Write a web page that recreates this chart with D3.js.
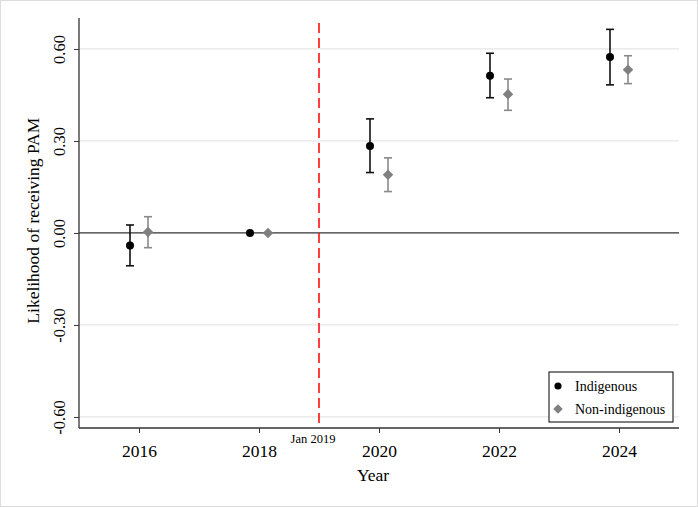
<!DOCTYPE html>
<html>
  <head>
    <meta charset="utf-8">
    <title>Event study</title>
    <style>
      body { margin: 0; background: #fff; }
      svg text { font-family: "Liberation Serif", "Times New Roman", serif !important; }
    </style>
  </head>
  <body>
    <div id="chart"></div>
    <script src="https://cdn.jsdelivr.net/npm/d3@7"></script>
<script>

  var years = [2016, 2018, 2020, 2022, 2024];
  var yTicks = [-0.6, -0.3, 0, 0.3, 0.6];

  // Indigenous: estimate, lower CI, upper CI
  var indig = [-0.041, 0.0, 0.284, 0.513, 0.574];
  var indigLo = [-0.107, 0.0, 0.197, 0.441, 0.483];
  var indigHi = [0.026, 0.0, 0.372, 0.586, 0.664];

  // Non-indigenous
  var nonIndig = [0.003, 0.0, 0.190, 0.452, 0.532];
  var nonIndigLo = [-0.048, 0.0, 0.135, 0.400, 0.487];
  var nonIndigHi = [0.053, 0.0, 0.245, 0.502, 0.578];

  var seriesNames = ["Indigenous", "Non-indigenous"];

  var W = 698, H = 507;
  var margin = {top: 18, right: 18, bottom: 79, left: 79},
    width = 679 - margin.left,
    height = 428 - margin.top;

  var svg = d3.select('#chart')
    .append('svg')
    .attr("width", W)
    .attr("height", H);

  svg.append("rect")
    .attr("x", 0.5).attr("y", 0.5)
    .attr("width", W - 1).attr("height", H - 1)
    .attr("fill", "#fff")
    .attr("stroke", "#dcdcdc");

  var g = svg.append("g")
    .attr("transform", "translate(" + margin.left + "," + margin.top + ")");

  var x = d3.scaleLinear()
    .range([0, width])
    .domain([2015, 2025]);

  var y = d3.scaleLinear()
    .range([height, 0])
    .domain([-0.636, 0.701]);

  // gridlines
  g.selectAll(".grid")
    .data(yTicks.filter(function(d){ return d !== 0; }))
    .enter().append("line")
    .attr("x1", 0).attr("x2", width)
    .attr("y1", function(d){ return y(d); })
    .attr("y2", function(d){ return y(d); })
    .attr("stroke", "#e6e6e6")
    .attr("stroke-width", 1.2);

  // zero line
  g.append("line")
    .attr("x1", 0).attr("x2", width)
    .attr("y1", y(0)).attr("y2", y(0))
    .attr("stroke", "#333")
    .attr("stroke-width", 1.3);

  var fmt = function(d){ return d3.format(".2f")(d).replace("\u2212", "-"); };

  // y axis
  var yAxis = g.append("g")
    .call(d3.axisLeft(y).tickValues(yTicks).tickSize(5).tickFormat(fmt))
    .attr("font-family", null);
  yAxis.select(".domain").attr("stroke", "#333").attr("stroke-width", 1.3)
    .attr("d", "M0," + height + "V0");
  yAxis.selectAll(".tick line").attr("stroke", "#333");
  yAxis.selectAll(".tick text")
    .attr("font-size", 16.5)
    .attr("fill", "#000")
    .attr("transform", "rotate(-90)")
    .attr("x", 0)
    .attr("y", -14)
    .attr("dy", 0)
    .attr("text-anchor", "middle");

  // x axis
  var xAxis = g.append("g")
    .attr("transform", "translate(0," + height + ")")
    .call(d3.axisBottom(x).tickValues(years).tickSize(5).tickFormat(d3.format("d")))
    .attr("font-family", null);
  xAxis.select(".domain").attr("stroke", "#333").attr("stroke-width", 1.3)
    .attr("d", "M0,0H" + width);
  xAxis.selectAll(".tick line").attr("stroke", "#333");
  xAxis.selectAll(".tick text")
    .attr("font-size", 17.5)
    .attr("fill", "#000")
    .attr("y", 17);

  // policy line
  g.append("line")
    .attr("x1", x(2019)).attr("x2", x(2019))
    .attr("y1", 5).attr("y2", height)
    .attr("stroke", "#ff1010")
    .attr("stroke-width", 1.6)
    .attr("stroke-dasharray", "10,5");

  g.append("text")
    .attr("x", x(2018.9))
    .attr("y", height + 15)
    .attr("text-anchor", "middle")
    .attr("font-size", 12.5)
    .text("Jan 2019");

  // axis titles
  svg.append("text")
    .attr("x", margin.left + width / 2 - 6)
    .attr("y", 481)
    .attr("text-anchor", "middle")
    .attr("font-size", 17.5)
    .text("Year");

  svg.append("text")
    .attr("transform", "translate(39," + (margin.top + y(0.04)) + ") rotate(-90)")
    .attr("text-anchor", "middle")
    .attr("font-size", 17.5)
    .text("Likelihood of receiving PAM");

  var off = 0.15;
  function bars(vals, lo, hi, dx, color) {
    var d = years.map(function(yr, i){ return {yr: yr, v: vals[i], lo: lo[i], hi: hi[i]}; })
      .filter(function(p){ return p.hi !== p.lo; });
    var eg = g.append("g").attr("stroke", color).attr("stroke-width", 1.6);
    eg.selectAll(".v").data(d).enter().append("line")
      .attr("x1", function(p){ return x(p.yr + dx); })
      .attr("x2", function(p){ return x(p.yr + dx); })
      .attr("y1", function(p){ return y(p.lo); })
      .attr("y2", function(p){ return y(p.hi); });
    ["lo", "hi"].forEach(function(k){
      eg.selectAll(".c" + k).data(d).enter().append("line")
        .attr("x1", function(p){ return x(p.yr + dx) - 4; })
        .attr("x2", function(p){ return x(p.yr + dx) + 4; })
        .attr("y1", function(p){ return y(p[k]); })
        .attr("y2", function(p){ return y(p[k]); });
    });
  }

  bars(indig, indigLo, indigHi, -off, "#111");
  bars(nonIndig, nonIndigLo, nonIndigHi, off, "#8a8a8a");

  g.selectAll(".dot")
    .data(years)
    .enter().append("circle")
    .attr("cx", function(d){ return x(d - off); })
    .attr("cy", function(d, i){ return y(indig[i]); })
    .attr("r", 4)
    .attr("fill", "#000");

  g.selectAll(".dia")
    .data(years)
    .enter().append("path")
    .attr("d", d3.symbol().type(d3.symbolSquare).size(55))
    .attr("transform", function(d, i){ return "translate(" + x(d + off) + "," + y(nonIndig[i]) + ") rotate(45)"; })
    .attr("fill", "#808080");

  // legend
  var lg = svg.append("g").attr("transform", "translate(549,372)");
  lg.append("rect")
    .attr("width", 124).attr("height", 50)
    .attr("fill", "#fff")
    .attr("stroke", "#000")
    .attr("stroke-width", 1);
  lg.append("circle").attr("cx", 9).attr("cy", 14).attr("r", 3.6).attr("fill", "#000");
  lg.append("path")
    .attr("d", d3.symbol().type(d3.symbolSquare).size(45))
    .attr("transform", "translate(9,37) rotate(45)")
    .attr("fill", "#808080");
  lg.selectAll(".lt").data(seriesNames).enter().append("text")
    .attr("x", 26)
    .attr("y", function(d, i){ return 19 + i * 23; })
    .attr("font-size", 14)
    .text(function(d){ return d; });

</script>
  </body>
</html>
